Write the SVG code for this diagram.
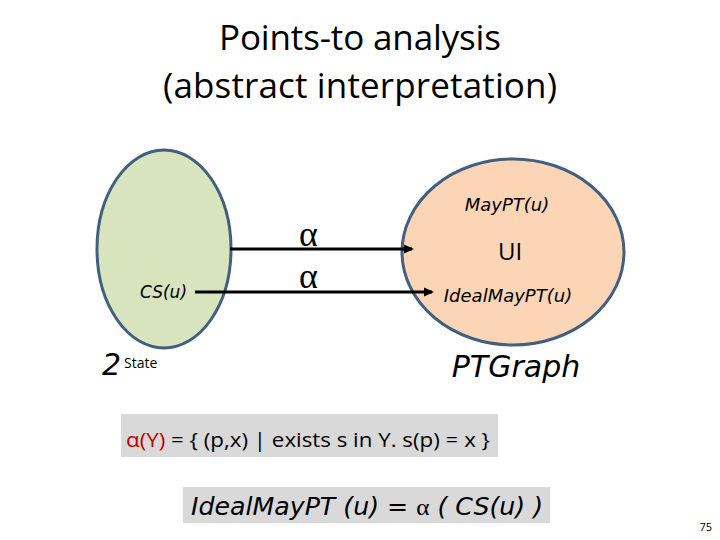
<svg xmlns="http://www.w3.org/2000/svg" width="720" height="540" viewBox="0 0 720 540">
<style>
.title{font-family:"Open Sans","Liberation Sans",sans-serif;font-size:35px;fill:#000;text-anchor:middle}
.hand{font-family:"DejaVu Sans","Liberation Sans",sans-serif;font-style:oblique;fill:#000}
.greek{font-family:"Liberation Serif",serif;font-size:36px;fill:#000}
.body{font-family:"Open Sans","Liberation Sans",sans-serif;fill:#000}
.conn{stroke:#000;stroke-width:3;fill:none}
</style>
<defs>
<marker id="ah" markerWidth="10" markerHeight="10" refX="8" refY="5" orient="auto" markerUnits="userSpaceOnUse">
<path d="M0,0.5 L10,5 L0,9.5 z" fill="#000"/>
</marker>
</defs>
<rect width="720" height="540" fill="#fff"/>
<text class="title" x="360" y="50" textLength="282">Points-to analysis</text>
<text class="title" x="360" y="98" textLength="394">(abstract interpretation)</text>

<g id="state">
<ellipse cx="164" cy="249" rx="67" ry="99" fill="#d7e4bd" stroke="#41607f" stroke-width="3"/>
<text class="hand" x="140" y="298" font-size="17">CS(u)</text>
<text class="hand" x="102" y="375" font-size="30" font-style="normal">2</text>
<text class="body" x="124" y="368" font-size="14">State</text>
</g>

<g id="ptgraph">
<ellipse cx="513" cy="252" rx="111" ry="93" fill="#fbd5b5" stroke="#41607f" stroke-width="3"/>
<text class="hand" x="507" y="211" font-size="18" text-anchor="middle">MayPT(u)</text>
<text class="body" x="510" y="260" font-size="24" text-anchor="middle">UI</text>
<text class="hand" x="508" y="302" font-size="18" text-anchor="middle">IdealMayPT(u)</text>
<text class="hand" x="516" y="377" font-size="30" text-anchor="middle">PTGraph</text>
</g>

<g id="connectors">
<line class="conn" x1="230" y1="249" x2="412" y2="249" marker-end="url(#ah)"/>
<line class="conn" x1="195" y1="292" x2="432" y2="292" marker-end="url(#ah)"/>
<text class="greek" x="299" y="246">α</text>
<text class="greek" x="299" y="288">α</text>
</g>

<g id="def">
<rect x="121" y="414" width="377" height="43" fill="#d9d9d9"/>
<text class="body" x="126" y="447" font-size="20" textLength="364" lengthAdjust="spacingAndGlyphs"><tspan fill="#c00000">α(Y)</tspan> = { (p,x) | exists s in Y. s(p) = x }</text>
</g>

<g id="eq">
<rect x="183" y="487" width="367" height="36" fill="#d9d9d9"/>
<text class="hand" x="191" y="515" font-size="24" textLength="352" lengthAdjust="spacingAndGlyphs">IdealMayPT (u) = <tspan font-family="Liberation Serif,serif" font-style="normal">α</tspan> ( CS(u) )</text>
</g>

<text class="body" x="712" y="531" font-size="11" fill="#8c8c8c" text-anchor="end">75</text>
</svg>
